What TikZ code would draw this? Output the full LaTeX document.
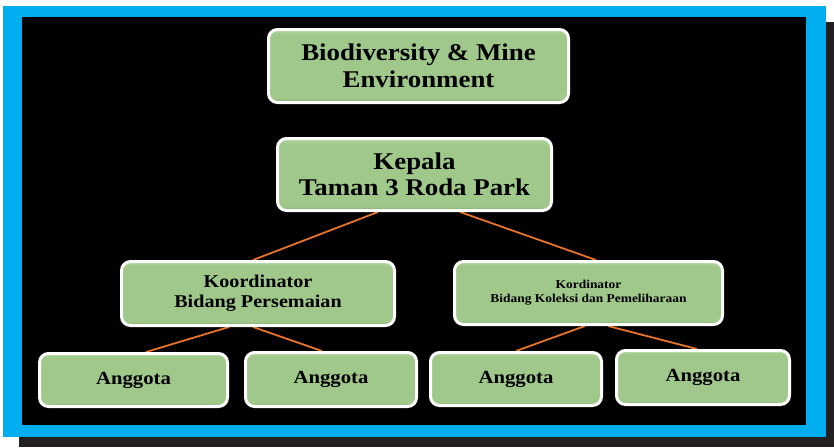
\documentclass[tikz,border=0pt]{standalone}
\usepackage{fontspec}
\setmainfont[FakeStretch=1.12]{Liberation Serif}
\usetikzlibrary{calc}
\definecolor{frameblue}{HTML}{00AEEF}
\definecolor{shadowgray}{HTML}{231F20}
\definecolor{boxlight}{HTML}{B2D69E}
\definecolor{boxgreen}{HTML}{9FC88A}
\definecolor{boxdark}{HTML}{7FA66B}
\definecolor{linkorange}{HTML}{E8742A}
\pgfdeclareverticalshading{boxshade}{100bp}{color(0bp)=(boxdark); color(25bp)=(boxdark); color(28bp)=(boxgreen); color(71bp)=(boxgreen); color(75bp)=(boxlight); color(100bp)=(boxlight)}
\pgfdeclarelayer{bg}
\pgfdeclarelayer{conn}
\pgfsetlayers{bg,conn,main}
\tikzset{
  orgbox/.style={draw=white, line width=3pt, rounded corners=9pt, shading=boxshade,
    align=center, inner sep=0pt, font=\bfseries, text=black},
  link/.style={draw=linkorange, line width=1.8pt}
}
\begin{document}
\begin{tikzpicture}[x=1pt,y=-1pt]
\begin{pgfonlayer}{bg}
  \fill[white] (0,0) rectangle (834,447);
  \fill[shadowgray] (19,22) rectangle (834,447);
  \fill[frameblue] (3,6) rectangle (826,437);
  \fill[black] (22,17) rectangle (806,425);
\end{pgfonlayer}
\useasboundingbox (0,0) rectangle (834,447);

\node[orgbox, minimum width=300pt, minimum height=73pt, font=\bfseries\fontsize{24}{27}\selectfont] (bio) at (418.5,66) {Biodiversity \& Mine\\Environment};
\node[orgbox, minimum width=274pt, minimum height=72pt, font=\bfseries\fontsize{24}{26}\selectfont] (kep) at (414.5,174.5) {Kepala\\Taman 3 Roda Park};
\node[orgbox, minimum width=273pt, minimum height=64pt, font=\bfseries\fontsize{18}{20}\selectfont] (kor1) at (258,293.5) {Koordinator\\Bidang Persemaian};
\node[orgbox, minimum width=268pt, minimum height=63pt, font=\bfseries\fontsize{12}{14}\selectfont] (kor2) at (588.5,293) {Kordinator\\Bidang Koleksi dan Pemeliharaan};
\node[orgbox, minimum width=188pt, minimum height=53pt, font=\bfseries\fontsize{18.5}{22}\selectfont] (a1) at (133.5,380) {Anggota};
\node[orgbox, minimum width=171pt, minimum height=54pt, font=\bfseries\fontsize{18.5}{22}\selectfont] (a2) at (331,379.5) {Anggota};
\node[orgbox, minimum width=171pt, minimum height=53pt, font=\bfseries\fontsize{18.5}{22}\selectfont] (a3) at (516,379) {Anggota};
\node[orgbox, minimum width=173pt, minimum height=54pt, font=\bfseries\fontsize{18.5}{22}\selectfont] (a4) at (703,377.5) {Anggota};

\begin{pgfonlayer}{conn}
  \draw[link] ($(kep.south)+(-36.5,0)$) -- ($(kor1.north)+(-5,0)$);
  \draw[link] ($(kep.south)+(45.5,0)$) -- ($(kor2.north)+(7.5,0)$);
  \draw[link] ($(kor1.south)+(-29,0)$) -- ($(a1.north)+(12.5,0)$);
  \draw[link] ($(kor1.south)+(-5,0)$) -- ($(a2.north)+(-9,0)$);
  \draw[link] ($(kor2.south)+(-3.5,0)$) -- ($(a3.north)+(0,0)$);
  \draw[link] ($(kor2.south)+(19.5,0)$) -- ($(a4.north)+(-6,0)$);
\end{pgfonlayer}
\end{tikzpicture}
\end{document}
